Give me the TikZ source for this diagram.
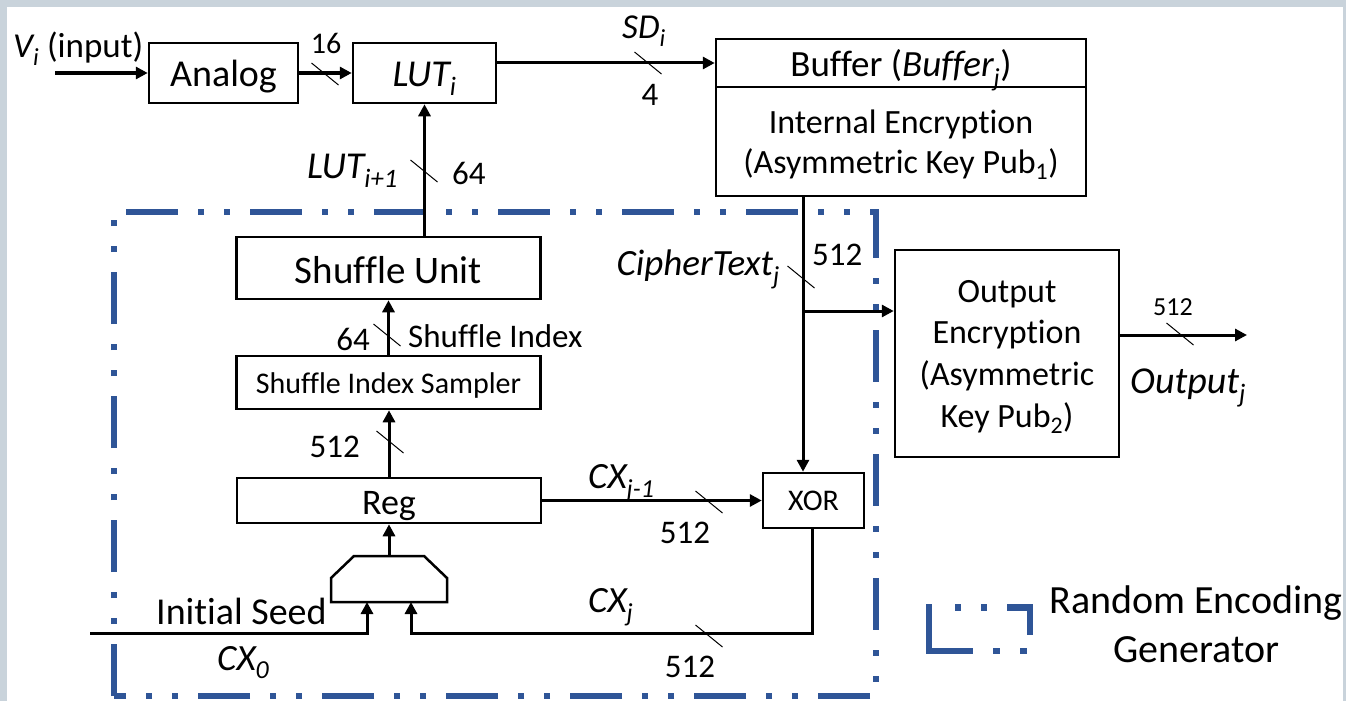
\documentclass[tikz,border=0pt]{standalone}
\usepackage{fontspec}
\setmainfont{Carlito}[Ligatures={NoCommon}]
\usetikzlibrary{arrows.meta,calc}
\definecolor{rblue}{RGB}{47,85,151}
\definecolor{framegray}{RGB}{201,211,219}
\newcommand{\fs}[2]{\fontsize{#1}{#2}\selectfont}
\begin{document}
\begin{tikzpicture}[x=1pt,y=-1pt,
  box/.style={draw, line width=2.5pt, inner sep=0pt, anchor=center, text depth=0pt},
  conn/.style={line width=3pt, -{Triangle[length=12pt,width=12pt]}},
  busmark/.style={line width=1pt},
  lbl/.style={inner sep=0pt},
  rdash/.style={draw=rblue, line width=6.5pt, dash pattern=on 52pt off 20pt on 6pt off 20pt on 6pt off 20pt},
  rsolid/.style={draw=rblue, line width=6.5pt},
]
\fill[framegray] (0,0) rectangle (1346,701);
\fill[white] (7,7) rectangle (1343,701);
\useasboundingbox (0,0) rectangle (1346,701);

% random encoding generator region
\draw[rdash] (114,696) -- (114,212) -- (876,212) -- (876,696) -- cycle;

% boxes
\node[box, minimum width=149pt, minimum height=60pt, font=\fs{38}{44}, text height=26.6pt] (analog) at (223.5,73) {Analog};
\node[box, minimum width=143pt, minimum height=60pt, font=\fs{38}{44}, text height=26pt] (lut) at (424.5,73) {\textit{LUT\textsubscript{i}}};
\node[box, minimum width=370pt, minimum height=48pt, font=\fs{37}{44}, text height=28pt] (buftop) at (901,63) {Buffer (\textit{Buffer\textsubscript{j}})};
\node[box, minimum width=370pt, minimum height=109pt] (buflow) at (901,141.5) {};
\node[box, minimum width=304pt, minimum height=62pt, font=\fs{39}{45}, text height=30pt] (su) at (388.5,268) {Shuffle Unit};
\node[box, minimum width=304pt, minimum height=53pt, font=\fs{30}{36}, text height=21pt] (sis) at (388.5,382.5) {Shuffle Index Sampler};
\node[box, minimum width=304pt, minimum height=45pt, font=\fs{36}{42}, text height=27pt] (reg) at (389,500.5) {Reg};
\node[box, minimum width=101pt, minimum height=55pt, font=\fs{30}{36}, text height=19pt] (xor) at (813.5,500.5) {XOR};
\node[box, minimum width=224pt, minimum height=207pt] (outenc) at (1007,353.5) {};

% box texts on several lines
\node[lbl, anchor=base, font=\fs{34}{40}] (bl1) at (901,133) {Internal Encryption};
\node[lbl, anchor=base, font=\fs{34}{40}] (bl2) at (901,173) {(Asymmetric Key Pub\textsubscript{1})};
\node[lbl, anchor=base, font=\fs{34}{40}] (ol1) at (1007,302) {Output};
\node[lbl, anchor=base, font=\fs{34}{40}] (ol2) at (1007,343) {Encryption};
\node[lbl, anchor=base, font=\fs{34}{40}] (ol3) at (1007,385) {(Asymmetric};
\node[lbl, anchor=base, font=\fs{34}{40}] (ol4) at (1007,427) {Key Pub\textsubscript{2})};

% multiplexer
\draw[line width=2.5pt] (331,602) -- (331,578) -- (354,556) -- (424,556) -- (447,578) -- (447,602) -- cycle;
\coordinate (muxtop) at (389,556);
\coordinate (muxinL) at (367,602);
\coordinate (muxinR) at (411,602);

% connectors
\coordinate (vin) at (55,73);
\draw[conn] (vin) -- (analog.west);
\draw[conn] (analog.east) -- (lut.west);
\draw[conn] (lut.east |- buftop.west) -- (buftop.west);
\draw[conn] (su.north -| lut.south) -- (lut.south);
\draw[conn] (sis.north) -- (su.south);
\draw[conn] (reg.north) -- (reg.north |- sis.south);
\draw[conn] (muxtop) -- (reg.south);
\draw[conn] (reg.east) -- (xor.west);
\coordinate (vx) at (803,0);
\draw[conn] (buflow.south -| vx) -- (xor.north -| vx);
\coordinate (br) at (803,311);
\draw[conn] (br) -- (br -| outenc.west);
\coordinate (oend) at (1247,335);
\draw[conn] (oend -| outenc.east) -- (oend);
\coordinate (xc) at (812,633);
\draw[conn] (xor.south -| xc) -- (xc) -- (xc -| muxinR) -- (muxinR);
\coordinate (seed) at (90,633);
\draw[conn] (seed) -- (seed -| muxinL) -- (muxinL);

% bus width marks
\foreach \x/\y in {325/74, 648/63, 424/171, 387/335, 390/442, 709/502, 709/636, 801/277, 1180/334}
  \draw[busmark] (\x-13.5,\y-11) -- (\x+13.5,\y+11);

% labels
\node[lbl, anchor=base west, font=\fs{35}{40}] (vlabel) at (13,57) {\textit{V\textsubscript{i}} (input)};
\node[lbl, anchor=base, font=\fs{30}{36}] (l16) at (326,53) {16};
\node[lbl, anchor=base west, font=\fs{35}{40}] (lsd) at (622,38) {\textit{SD\textsubscript{i}}};
\node[lbl, anchor=base, font=\fs{33}{40}] (l4) at (650,105) {4};
\node[lbl, anchor=base east, font=\fs{38}{44}] (llut) at (398,178) {\textit{LUT\textsubscript{i+1}}};
\node[lbl, anchor=base west, font=\fs{33}{40}] (l64a) at (452,184) {64};
\node[lbl, anchor=base east, font=\fs{33}{40}] (l64b) at (370,350) {64};
\node[lbl, anchor=base west, font=\fs{33}{40}] (lsi) at (408,347) {Shuffle Index};
\node[lbl, anchor=base east, font=\fs{33}{40}] (l512a) at (360,457) {512};
\node[lbl, anchor=base west, font=\fs{37}{44}] (lcxj1) at (588,488) {\textit{CX\textsubscript{j-1}}};
\node[lbl, anchor=base, font=\fs{33}{40}] (l512b) at (685,543) {512};
\node[lbl, anchor=base west, font=\fs{37}{44}] (lcxj) at (588,612) {\textit{CX\textsubscript{j}}};
\node[lbl, anchor=base, font=\fs{33}{40}] (l512c) at (690,677) {512};
\node[lbl, anchor=base west, font=\fs{38}{44}] (lseed) at (156,624) {Initial Seed};
\node[lbl, anchor=base west, font=\fs{37}{44}] (lcx0) at (217,670) {\textit{CX\textsubscript{0}}};
\node[lbl, anchor=base east, font=\fs{37}{44}] (lct) at (780,275) {\textit{CipherText\textsubscript{j}}};
\node[lbl, anchor=base west, font=\fs{33}{40}] (l512d) at (812,265) {512};
\node[lbl, anchor=base, font=\fs{26}{30}] (l512e) at (1173,315) {512};
\node[lbl, anchor=base west, font=\fs{38}{44}] (lout) at (1130,393) {\textit{Output\textsubscript{j}}};

% legend
\draw[rsolid] (1007,607.5) -- (1030,607.5) -- (1030,635);
\draw[rsolid] (955,607.5) -- (961,607.5);
\draw[rsolid] (981,607.5) -- (987,607.5);
\draw[rsolid] (929,604) -- (929,651) -- (973,651);
\draw[rsolid] (993,651) -- (1000,651);
\draw[rsolid] (1020,651) -- (1027,651);
\node[lbl, anchor=base, font=\fs{40}{49}] (leg1) at (1196,613) {Random Encoding};
\node[lbl, anchor=base, font=\fs{40}{49}] (leg2) at (1196,662) {Generator};
\end{tikzpicture}
\end{document}
